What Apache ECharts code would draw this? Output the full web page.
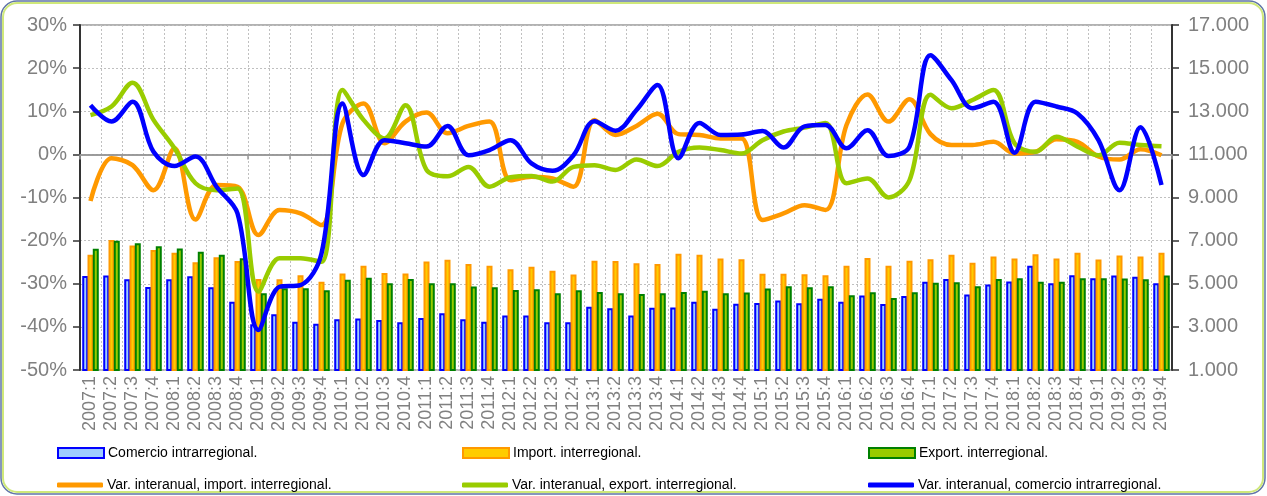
<!DOCTYPE html>
<html>
<head>
<meta charset="utf-8">
<script src="https://cdn.jsdelivr.net/npm/echarts@6/dist/echarts.min.js"></script>
<style>
html,body{margin:0;padding:0;background:#fff;}
#c{width:1267px;height:496px;}
</style>
</head>
<body>
<div id="c"></div>
<script>
const categories = ['2007:1','2007:2','2007:3','2007:4','2008:1','2008:2','2008:3','2008:4','2009:1','2009:2','2009:3','2009:4','2010:1','2010:2','2010:3','2010:4','2011:1','2011:2','2011:3','2011:4','2012:1','2012:2','2012:3','2012:4','2013:1','2013:2','2013:3','2013:4','2014:1','2014:2','2014:3','2014:4','2015:1','2015:2','2015:3','2015:4','2016:1','2016:2','2016:3','2016:4','2017:1','2017:2','2017:3','2017:4','2018:1','2018:2','2018:3','2018:4','2019:1','2019:2','2019:3','2019:4'];

const comercioIntra = [5360,5380,5210,4850,5210,5350,4840,4170,3120,3580,3240,3150,3350,3390,3320,3210,3410,3630,3350,3240,3530,3530,3220,3220,3930,3860,3530,3890,3900,4160,3840,4070,4110,4220,4090,4310,4170,4450,4060,4430,5090,5220,4500,4960,5100,5840,5020,5390,5260,5380,5320,5020];
const importInter = [6340,7030,6770,6570,6440,6000,6230,6060,5220,5210,5390,5090,5470,5840,5500,5470,6030,6110,5920,5840,5670,5790,5600,5430,6070,6060,5950,5920,6390,6350,6170,6140,5460,5460,5440,5390,5840,6200,5840,6070,6140,6350,5970,6260,6170,6370,6170,6440,6120,6310,6260,6440];
const exportInter = [6620,6990,6880,6740,6630,6480,6340,6180,4560,4790,4790,4700,5190,5280,5020,5220,5020,5020,4870,4840,4710,4740,4560,4700,4620,4560,4530,4560,4620,4670,4560,4590,4780,4880,4840,4880,4470,4610,4340,4610,5050,5070,4880,5220,5260,5090,5090,5260,5260,5240,5210,5380];

const varImport = [-10.8,-0.9,-2.5,-8.3,1.4,-15.1,-7.1,-7.5,-18.7,-12.9,-13.7,-16.4,7.2,11.8,2.6,7.6,9.7,4.9,6.6,7.6,-6.0,-5.2,-5.6,-7.5,8.0,4.5,6.6,9.4,4.7,4.5,3.7,3.7,-15.2,-13.7,-11.8,-12.9,6.8,13.9,7.6,12.8,4.7,2.2,2.2,2.9,0.2,0.6,3.5,2.9,-0.5,-1.2,1.2,-0.2];
const varExport = [9.1,11.1,16.6,8.0,1.4,-6.7,-8.3,-7.9,-31.8,-24.1,-24.1,-24.9,14.9,8.0,3.7,11.4,-3.6,-5.1,-2.9,-7.5,-5.3,-5.0,-6.3,-2.9,-2.5,-3.6,-1.2,-2.7,0.6,1.6,1.0,0.2,3.3,5.3,6.2,7.3,-6.7,-5.6,-10.0,-6.0,13.8,10.7,12.6,14.9,2.6,0.6,4.1,1.8,-0.2,2.7,2.2,1.9];
const varComercio = [11.4,7.6,12.2,0.6,-2.7,-0.5,-7.5,-13.7,-40.7,-30.7,-30.3,-23.0,11.8,-4.8,3.3,2.6,1.8,6.6,-0.2,1.0,3.3,-2.1,-3.8,-0.2,7.7,5.5,10.3,16.1,-0.9,7.3,4.5,4.6,5.4,1.6,6.5,6.8,1.4,5.6,-0.4,1.8,23.0,17.2,10.7,12.2,0.4,12.2,11.1,9.5,3.3,-8.3,6.3,-7.1];

const names = ['Comercio intrarregional.','Import. interregional.','Export. interregional.','Var. interanual, import. interregional.','Var. interanual, export. interregional.','Var. interanual, comercio intrarregional.'];

const FONT = "'Liberation Sans', Arial, sans-serif";
const chart = echarts.init(document.getElementById('c'), null, {renderer:'canvas'});

function thousands(v){
  return String(v).replace(/\B(?=(\d{3})+(?!\d))/g, '.');
}

const legendPos = [
  {left:57, top:446}, {left:462, top:446}, {left:868, top:446},
  {left:57, top:478}, {left:462, top:478}, {left:868, top:478}
];
const legends = names.map((n,i)=>({
  data:[n],
  left:legendPos[i].left, top:legendPos[i].top,
  padding:0, itemGap:0,
  icon: i<3 ? 'rect' : 'roundRect',
  itemWidth: 46,
  itemHeight: i<3 ? 10 : 5,
  textStyle:{fontSize:14, color:'#000', fontFamily:FONT, padding:[0,0,0,-1]},
  selectedMode:false
}));

const option = {
  animation:false,
  backgroundColor:'#fff',
  textStyle:{fontFamily:FONT},
  graphic:[
    {type:'rect', shape:{x:1, y:1, width:1264, height:493, r:16}, style:{fill:'none', stroke:'#5f74a8', lineWidth:1.5}, z:-10, silent:true},
    {type:'rect', shape:{x:3, y:3, width:1260, height:489, r:14}, style:{fill:'none', stroke:'#cfe87a', lineWidth:2}, z:-10, silent:true}
  ],
  legend: legends,
  grid:{left:80, right:95, top:25, bottom:126, show:true, borderColor:'#999', borderWidth:1.5, containLabel:false},
  xAxis:[
    {
      type:'category', data:categories, boundaryGap:true, position:'bottom',
      axisLine:{show:true, lineStyle:{color:'#888', width:1.5}},
      axisTick:{show:false},
      axisLabel:{rotate:90, interval:0, fontSize:18, color:'#808080', margin:6, fontFamily:FONT},
      splitLine:{show:true, interval:0, lineStyle:{color:'#c0c0c0', type:[2,2], width:1}}
    },
    {
      type:'category', data:categories, boundaryGap:true, position:'top', offset:-129.4,
      axisLine:{show:true, lineStyle:{color:'#999', width:1.5}},
      axisTick:{show:true, inside:true, interval:1, length:5, lineStyle:{color:'#999', width:1.5}},
      axisLabel:{show:false},
      splitLine:{show:false}
    }
  ],
  yAxis:[
    {
      type:'value', min:-50, max:30, interval:10, position:'left',
      axisLine:{show:true, lineStyle:{color:'#333', width:2}},
      axisTick:{show:true, length:7, lineStyle:{color:'#333', width:1.5}},
      axisLabel:{formatter:'{value}%', color:'#808080', fontSize:20, margin:13, fontFamily:FONT},
      splitLine:{show:true, lineStyle:{color:'#c0c0c0', type:[2,2], width:1}}
    },
    {
      type:'value', min:1000, max:17000, interval:2000, position:'right',
      axisLine:{show:true, lineStyle:{color:'#333', width:2}},
      axisTick:{show:true, length:7, lineStyle:{color:'#333', width:1.5}},
      axisLabel:{formatter:thousands, color:'#808080', fontSize:20, margin:16, fontFamily:FONT},
      splitLine:{show:false}
    }
  ],
  series:[
    {name:names[0], type:'bar', yAxisIndex:1, data:comercioIntra, barWidth:6, barGap:'-12%',
     itemStyle:{color:'#9ecbff', borderColor:'#0000ff', borderWidth:2}},
    {name:names[1], type:'bar', yAxisIndex:1, data:importInter, barWidth:6, barGap:'-12%',
     itemStyle:{color:'#ffcc00', borderColor:'#ff9900', borderWidth:2}},
    {name:names[2], type:'bar', yAxisIndex:1, data:exportInter, barWidth:6, barGap:'-12%',
     itemStyle:{color:'#99cc00', borderColor:'#008000', borderWidth:2}},
    {name:names[3], type:'line', yAxisIndex:0, data:varImport, smooth:0.35, showSymbol:false, symbol:'none',
     lineStyle:{color:'#ff9900', width:4.5}, itemStyle:{color:'#ff9900'}, z:5},
    {name:names[4], type:'line', yAxisIndex:0, data:varExport, smooth:0.35, showSymbol:false, symbol:'none',
     lineStyle:{color:'#99cc00', width:4.5}, itemStyle:{color:'#99cc00'}, z:6},
    {name:names[5], type:'line', yAxisIndex:0, data:varComercio, smooth:0.35, showSymbol:false, symbol:'none',
     lineStyle:{color:'#0000ff', width:4.5}, itemStyle:{color:'#0000ff'}, z:7}
  ]
};
chart.setOption(option);
</script>
</body>
</html>
